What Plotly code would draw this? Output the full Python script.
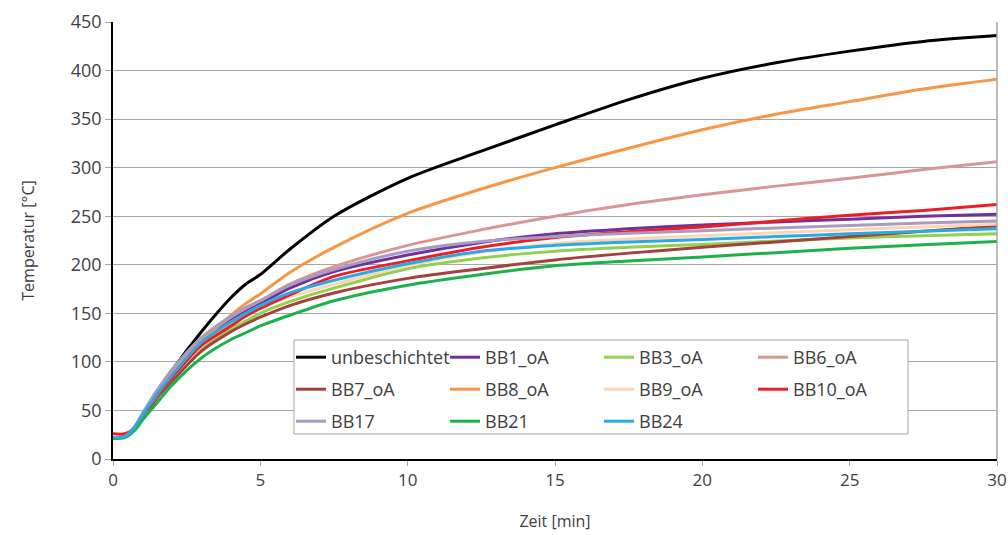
import plotly.graph_objects as go

# Time axis (minutes)
zeit = [0, 0.4, 0.75, 1, 1.5, 2, 3, 4, 4.5, 5, 6, 7.5, 10, 12.5, 15, 17.5, 20, 22.5, 25, 27.5, 30]

unbeschichtet = [22, 23, 33, 45, 68, 91, 131, 166, 180, 190, 216, 250, 289, 317, 344, 370, 392, 408, 420, 430, 436]
bb1_oa = [22, 23, 33, 46, 70, 90, 123, 143, 152, 160, 176, 193, 210, 223, 232, 237, 241, 244, 247, 250, 252]
bb3_oa = [22, 23, 32, 43, 64, 82, 114, 134, 142, 150, 162, 176, 196, 207, 214, 218, 221, 224.5, 227.5, 230, 232]
bb6_oa = [22, 23, 33, 46, 69, 90, 123, 146, 155, 163, 180, 198, 220, 236, 250, 262, 272, 281, 289, 298, 306]
bb7_oa = [22, 23, 31, 42, 63, 80, 111, 131, 139, 146, 158, 171, 186, 196, 205, 212, 218, 223.5, 229, 234.5, 240]
bb8_oa = [22, 23, 32, 44, 66, 86, 121, 148, 160, 170, 192, 218, 253, 278, 300, 320, 339, 355, 368, 381, 391]
bb9_oa = [22, 23, 32, 44, 66, 84, 116, 138, 147, 155, 167, 180, 199, 213, 222, 226.5, 230, 233, 236, 239, 242]
bb10_oa = [26, 26, 33, 44, 66, 84, 117, 137, 147, 155, 169, 188, 204, 218, 228, 234, 239, 245, 251, 256, 262]
bb17 = [22, 23, 34, 47, 71, 92, 125, 147, 156, 163, 179, 195, 214, 224, 229, 232.5, 235, 238, 240.5, 243, 245]
bb21 = [21, 22, 30, 40, 58, 76, 104, 123, 130, 137, 148, 163, 179, 190, 199, 204, 208, 212.5, 217, 220.5, 224]
bb24 = [22, 23, 33, 45, 67, 86, 120, 141, 150, 158, 171, 184, 201, 214, 220, 223.5, 226, 229, 232, 234.5, 237]

series = [
    ("unbeschichtet", unbeschichtet, "#000000", "legend"),
    ("BB1_oA", bb1_oa, "#7030A0", "legend2"),
    ("BB3_oA", bb3_oa, "#92D050", "legend3"),
    ("BB6_oA", bb6_oa, "#D99694", "legend4"),
    ("BB7_oA", bb7_oa, "#A5403D", "legend"),
    ("BB8_oA", bb8_oa, "#F79646", "legend2"),
    ("BB9_oA", bb9_oa, "#FCD5B5", "legend3"),
    ("BB10_oA", bb10_oa, "#EE1C25", "legend4"),
    ("BB17", bb17, "#A99BBD", "legend"),
    ("BB21", bb21, "#1DB14B", "legend2"),
    ("BB24", bb24, "#29ABE2", "legend3"),
]

fig = go.Figure()
for name, vals, color, leg in series:
    fig.add_trace(go.Scatter(
        x=zeit, y=vals, name=name, mode="lines",
        line=dict(color=color, width=3, shape="spline", smoothing=0.8),
        legend=leg, legendgroup=name,
    ))

font_fam = "Open Sans, Noto Sans, sans-serif"
txt_col = "#404040"

leg_common = dict(
    bgcolor="rgba(0,0,0,0)", borderwidth=0,
    font=dict(family=font_fam, size=18, color=txt_col),
    itemwidth=30, tracegroupgap=5.6,
    xanchor="left", yanchor="top", orientation="v",
    itemclick=False, itemdoubleclick=False,
)
legend_top = (459 - 339) / 437
col_px = [291, 445, 599, 753]
legends = {}
for i, px in enumerate(col_px):
    key = "legend" if i == 0 else f"legend{i+1}"
    legends[key] = dict(leg_common, x=(px - 113) / 884, y=legend_top)

fig.update_layout(
    width=1008, height=535,
    margin=dict(l=113, r=11, t=22, b=76, autoexpand=False),
    paper_bgcolor="white", plot_bgcolor="white",
    font=dict(family=font_fam, size=17, color=txt_col),
    showlegend=True,
    **legends,
    xaxis=dict(
        range=[0, 30], tickvals=[0, 5, 10, 15, 20, 25, 30],
        showgrid=False, zeroline=False, automargin=False,
        showline=True, linecolor="black", linewidth=1.5,
        ticks="outside", ticklen=5, tickcolor="#A6A6A6",
        tickfont=dict(size=17, color=txt_col),
        title=dict(text="Zeit [min]", font=dict(size=16, color=txt_col), standoff=26),
    ),
    yaxis=dict(
        range=[0, 450], tickvals=list(range(0, 451, 50)),
        showgrid=True, gridcolor="#A6A6A6", gridwidth=1,
        zeroline=False, automargin=False,
        showline=True, linecolor="black", linewidth=1.5,
        ticks="outside", ticklen=6, tickcolor="#A6A6A6",
        tickfont=dict(size=18, color=txt_col),
        title=dict(text="Temperatur [°C]", font=dict(size=16, color=txt_col), standoff=32),
    ),
    shapes=[
        dict(type="line", xref="paper", yref="paper", x0=1, x1=1, y0=0, y1=1,
             line=dict(color="#A6A6A6", width=1.5), layer="above"),
        dict(type="rect", xref="paper", yref="paper",
             x0=(294 - 113) / 884, x1=(908 - 113) / 884,
             y0=(459 - 434) / 437, y1=(459 - 340) / 437,
             fillcolor="white", line=dict(color="#A6A6A6", width=1), layer="above"),
    ],
)

fig.write_html("out.html")
